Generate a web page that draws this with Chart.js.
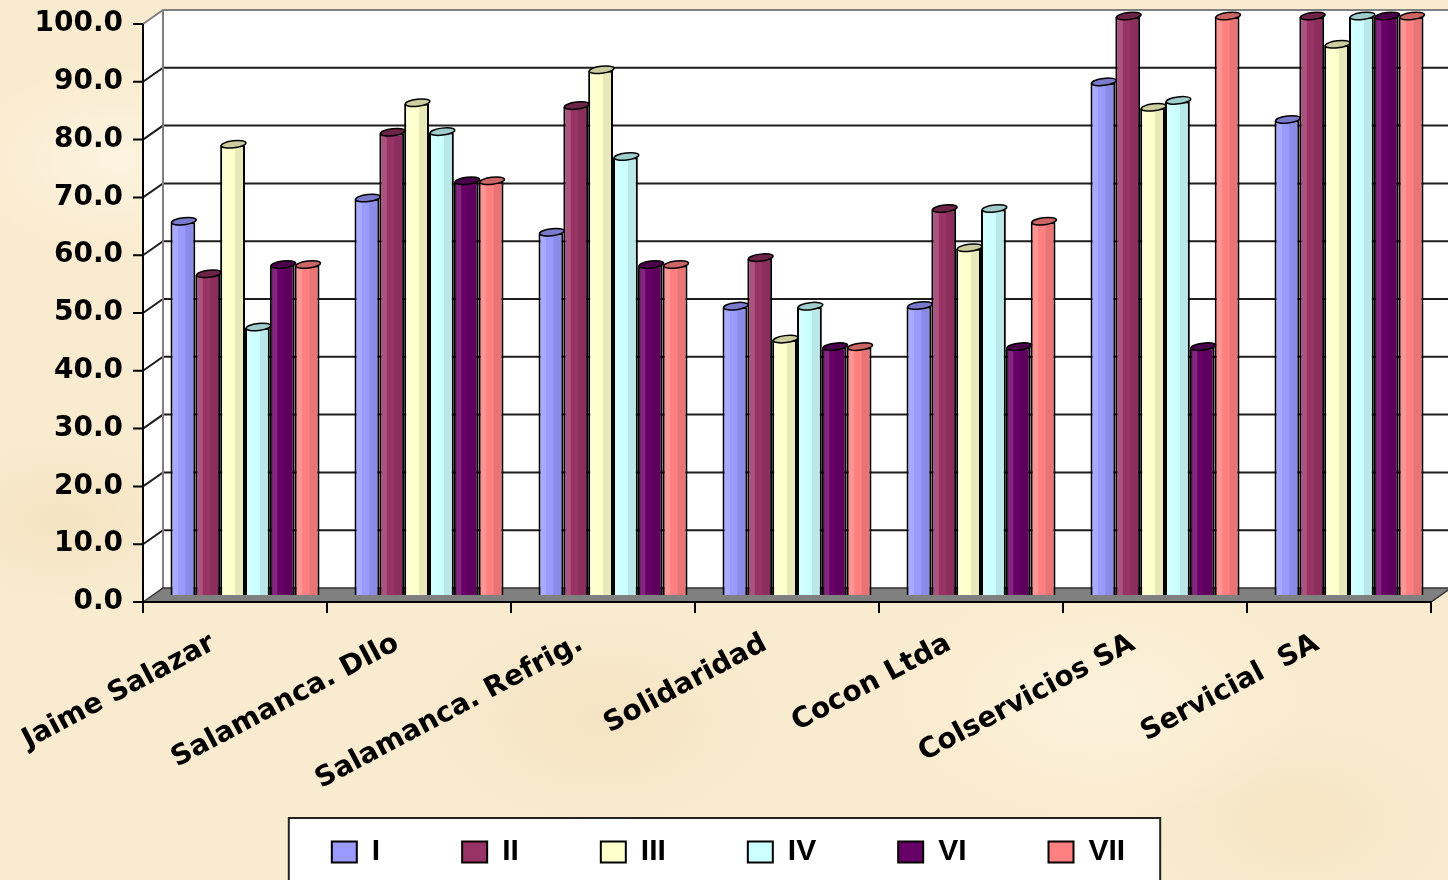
<!DOCTYPE html>
<html>
<head>
<meta charset="utf-8">
<script src="https://cdn.jsdelivr.net/npm/chart.js@4"></script>
<style>
  html, body { margin: 0; padding: 0; }
  body {
    width: 1448px; height: 880px; overflow: hidden;
    background-color: #f9ebcf;
    background-image:
      radial-gradient(ellipse 220px 140px at 120px 160px, rgba(255,250,235,0.55), rgba(255,250,235,0) 70%),
      radial-gradient(ellipse 260px 160px at 600px 720px, rgba(240,220,180,0.45), rgba(240,220,180,0) 70%),
      radial-gradient(ellipse 300px 180px at 1100px 700px, rgba(255,248,230,0.5), rgba(255,248,230,0) 70%),
      radial-gradient(ellipse 200px 120px at 60px 520px, rgba(238,218,178,0.45), rgba(238,218,178,0) 70%),
      radial-gradient(ellipse 240px 150px at 1300px 820px, rgba(242,224,186,0.5), rgba(242,224,186,0) 70%);
  }
  #wrap { position: relative; width: 1448px; height: 880px; }
</style>
</head>
<body>
<div id="wrap"><canvas id="myChart" width="1448" height="880"></canvas></div>
<script>
(function () {
  'use strict'

// categorias (empresas)
var empresas = ['Jaime Salazar', 'Salamanca. Dllo', 'Salamanca. Refrig.', 'Solidaridad', 'Cocon Ltda', 'Colservicios SA', 'Servicial  SA']

// valores por serie
var serieI   = [64.5, 68.5, 62.6, 49.8, 49.9, 88.6, 82.1]
var serieII  = [55.4, 79.9, 84.5, 58.2, 66.7, 100.0, 100.0]
var serieIII = [77.8, 85.0, 90.7, 44.1, 59.9, 84.2, 95.1]
var serieIV  = [46.2, 80.0, 75.7, 49.8, 66.7, 85.4, 100.0]
var serieVI  = [57.0, 71.5, 57.0, 42.8, 42.8, 42.8, 100.0]
var serieVII = [57.0, 71.5, 57.0, 42.8, 64.5, 100.0, 100.0]

var nomesSeries = ['I', 'II', 'III', 'IV', 'VI', 'VII']
var cores  = ['#9999ff', '#993366', '#ffffcc', '#ccffff', '#660066', '#ff8080']
var tampas = ['#7a7acc', '#6e2449', '#cccc9f', '#9fcccc', '#4a004a', '#cc6666']

var DX = 10, DY = 7   // profundidade do efeito 3d

// paredes, grade, piso e eixo frontal
const frame3d = {
  id: 'frame3d',
  beforeDatasetsDraw(chart) {
    const c = chart.ctx, xs = chart.scales.x, ys = chart.scales.y
    const L = xs.left, R = xs.right, W = chart.width
    const yf = v => ys.getPixelForValue(v) + DY
    const yb = v => ys.getPixelForValue(v) - DY
    const ticks = ys.ticks.map(t => t.value)
    c.save()
    // parede do fundo
    c.fillStyle = '#ffffff'
    c.fillRect(L + DX, yb(100), W - (L + DX), yb(0) - yb(100))
    // parede lateral
    c.beginPath()
    c.moveTo(L - DX, yf(100)); c.lineTo(L + DX, yb(100)); c.lineTo(L + DX, yb(0)); c.lineTo(L - DX, yf(0))
    c.closePath(); c.fill()
    // linhas de grade
    c.strokeStyle = '#1e1e1e'; c.lineWidth = 2
    ticks.forEach(v => {
      if (v <= 0 || v >= 100) return
      c.beginPath()
      c.moveTo(L - DX, yf(v)); c.lineTo(L + DX, yb(v)); c.lineTo(W, yb(v))
      c.stroke()
    })
    // borda superior e canto
    c.strokeStyle = '#808080'; c.lineWidth = 2
    c.beginPath()
    c.moveTo(L - DX, yf(100)); c.lineTo(L + DX, yb(100)); c.lineTo(W, yb(100))
    c.moveTo(L + DX, yb(100)); c.lineTo(L + DX, yb(0))
    c.stroke()
    // piso
    c.fillStyle = '#808080'
    c.beginPath()
    c.moveTo(L - DX, yf(0)); c.lineTo(L + DX, yb(0)); c.lineTo(R + DX, yb(0)); c.lineTo(R - DX, yf(0))
    c.closePath(); c.fill()
    c.strokeStyle = '#333'; c.lineWidth = 1.5; c.stroke()
    // eixo frontal
    c.strokeStyle = '#000'; c.lineWidth = 2
    c.beginPath()
    c.moveTo(L - DX, yf(100)); c.lineTo(L - DX, yf(0) + 11)
    c.moveTo(L - DX, yf(0)); c.lineTo(R - DX, yf(0))
    ticks.forEach(v => { c.moveTo(L - DX - 10, yf(v)); c.lineTo(L - DX, yf(v)) })
    const n = chart.data.labels.length
    for (let i = 0; i <= n; i++) {
      const x = L - DX + i * (R - L) / n
      c.moveTo(x, yf(0)); c.lineTo(x, yf(0) + 11)
    }
    c.stroke()
    c.restore()
  }
}

// sombreado cilindrico e tampa das barras
const cilindro = {
  id: 'cilindro',
  afterDatasetsDraw(chart) {
    const c = chart.ctx
    chart.data.datasets.forEach((ds, di) => {
      const meta = chart.getDatasetMeta(di)
      meta.data.forEach(bar => {
        const w = bar.width, x0 = bar.x - w / 2, top = bar.y, base = bar.base
        c.save()
        c.fillStyle = 'rgba(0,0,0,0.09)'
        c.fillRect(x0 + w * 0.6, top, w * 0.34, base - top)
        c.fillStyle = 'rgba(255,255,255,0.16)'
        c.fillRect(x0 + w * 0.1, top, w * 0.2, base - top)
        c.beginPath()
        c.ellipse(bar.x + 1, top - 1, w / 2, 3.5, -0.12, 0, Math.PI * 2)
        c.fillStyle = tampas[di]; c.fill()
        c.strokeStyle = '#000'; c.lineWidth = 1.5; c.stroke()
        c.restore()
      })
    })
  }
}

// moldura da legenda
const molduraLegenda = {
  id: 'molduraLegenda',
  beforeDraw(chart) {
    const lg = chart.legend
    if (!lg || !lg.lineWidths) return
    const pad = lg.options.labels.padding
    const meio = (lg.left + lg.right) / 2
    const larg = lg.lineWidths[0] - pad
    const x1 = meio - larg / 2 - 43, x2 = meio + larg / 2 + 35
    const y1 = lg.top + pad - 19
    const c = chart.ctx
    c.save()
    c.fillStyle = '#ffffff'
    c.fillRect(x1, y1, x2 - x1, chart.height - y1 + 10)
    c.strokeStyle = '#222'; c.lineWidth = 2
    c.strokeRect(x1, y1, x2 - x1, chart.height - y1 + 10)
    c.restore()
  }
}

const series = [serieI, serieII, serieIII, serieIV, serieVI, serieVII]
const ctx = document.getElementById('myChart').getContext('2d')

new Chart(ctx, {
  type: 'bar',
  data: {
    labels: empresas,
    datasets: series.map((s, i) => ({
      label: nomesSeries[i],
      data: s,
      backgroundColor: cores[i],
      borderColor: '#000',
      borderWidth: 2,
      categoryPercentage: 0.81,
      barPercentage: 1.0
    }))
  },
  options: {
    responsive: false,
    animation: false,
    layout: { padding: { top: 17, right: 7, bottom: 3, left: 16 } },
    plugins: {
      legend: {
        position: 'bottom',
        labels: {
          color: '#000',
          boxWidth: 25,
          boxHeight: 21,
          padding: 82,
          font: { family: '"Liberation Sans", Arial, sans-serif', size: 30, weight: 'bold' }
        }
      },
      tooltip: { enabled: false }
    },
    scales: {
      x: {
        grid: { display: false },
        border: { display: false },
        ticks: {
          color: '#000',
          autoSkip: false,
          minRotation: 28,
          maxRotation: 28,
          labelOffset: -32,
          padding: 24,
          font: { family: '"DejaVu Sans", sans-serif', size: 28, weight: 'bold' }
        },
        afterFit: function (scale) {
          scale.height = 160
          scale.paddingLeft = 0
          scale.paddingRight = 0
          // rotulos podem passar do limite inferior do eixo
          scale._computeLabelArea = function () { return undefined }
        }
      },
      y: {
        min: 0,
        max: 100,
        grid: { display: false, drawTicks: false },
        border: { display: false },
        ticks: {
          stepSize: 10,
          color: '#000',
          padding: 30,
          labelOffset: DY,
          font: { family: '"DejaVu Sans", sans-serif', size: 28, weight: 'bold' },
          callback: v => v.toFixed(1)
        },
        afterFit: function (scale) {
          scale.width = 137
          scale.paddingTop = 0
          scale.paddingBottom = 0
        }
      }
    }
  },
  plugins: [molduraLegenda, frame3d, cilindro]
})

})()
</script>
</body>
</html>
